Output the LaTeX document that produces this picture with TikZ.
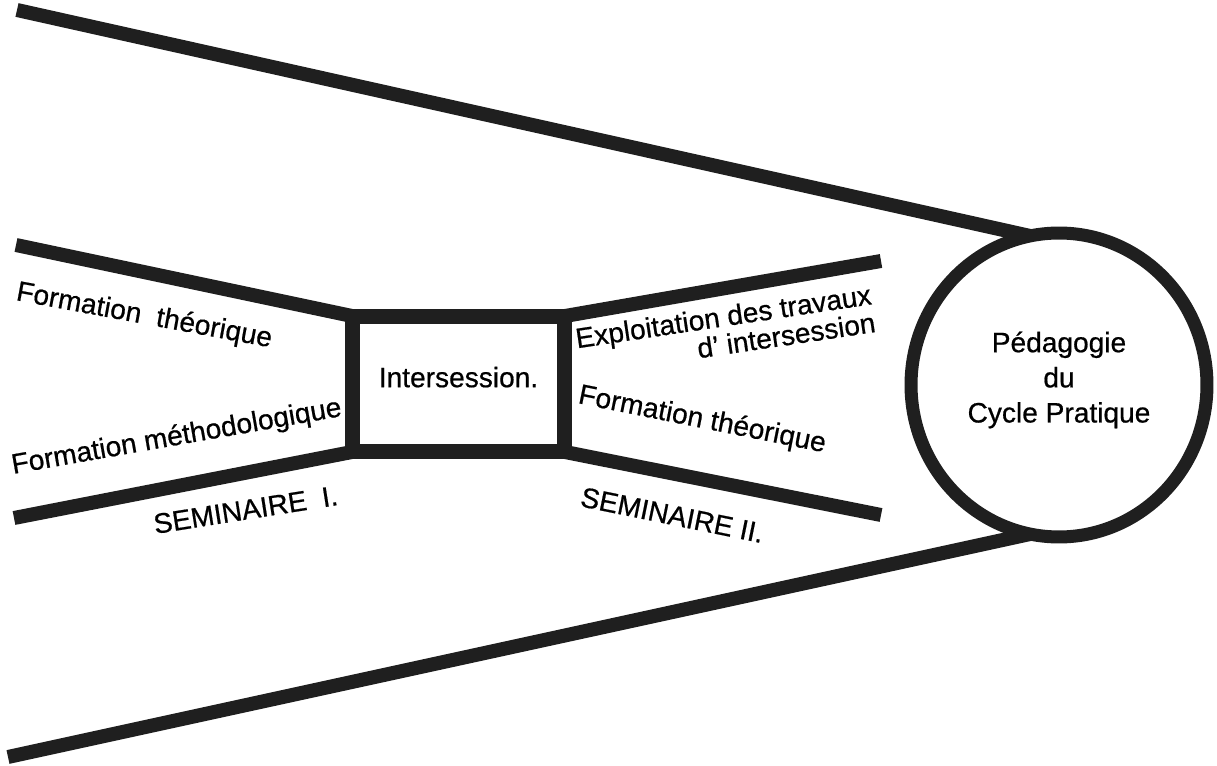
\documentclass[tikz,border=0pt]{standalone}
\usepackage{fontspec}
\setmainfont{Liberation Sans}[FakeBold=0.6]
\usetikzlibrary{shapes.geometric}

\begin{document}
\begin{tikzpicture}
[x=0.02cm, y=-0.02cm,
bar/.style ={draw=black!88, line width=0.28cm, line join=miter},
ring/.style ={ellipse, draw=black!88, line width=0.26cm,
minimum width=5.92cm, minimum height=6.08cm,
inner sep=0pt, outer sep=0pt, align=center, text depth=0.32cm,
font=\fontsize{16}{20}\selectfont},
block/.style ={rectangle, draw=black!88, line width=0.3cm,
minimum width=4.26cm, minimum height=2.72cm,
inner sep=0pt, outer sep=0pt, text depth=0.28cm,
font=\fontsize{16}{19}\selectfont},
label/.style ={anchor=base west, inner sep=0pt,
font=\fontsize{16}{13.5}\selectfont}]
\useasboundingbox (0,0) rectangle (1217,766);
% the two sessions and the cycle
\node [block] (inter) at (458.5,384) {Intersession.};
\node [ring]  (peda)  at (1059,385) {Pédagogie\\du\\Cycle Pratique};
% free ends of the bars
\coordinate (bigtop) at (17,10);
\coordinate (bigbot) at (8,757);
\coordinate (semtl)  at (16,245);
\coordinate (sembl)  at (14,518);
\coordinate (semtr)  at (881,261);
\coordinate (sembr)  at (881,515);
\begin{scope}[every path/.style=bar]
\path (bigtop) -- (peda.101);
\path (bigbot) -- (peda.259);
\path (semtl) -- (inter.north west) -- (inter.north east) -- (semtr);
\path (sembl) -- (inter.south west) -- (inter.south east) -- (sembr);
\end{scope}
% texts along the bars
\node [label, rotate=-10.5] (ftheo1) at (15,300) {Formation\ \ théorique};
\node [label, rotate=10]    (fmeth)  at (13,474) {Formation méthodologique};
\node [label, rotate=9]     (sem1)   at (155,534) {SEMINAIRE\ \ I.};
\node [label, rotate=8.5, align=right] (explo) at (581,376)
  {Exploitation des travaux\\d’ intersession};
\node [label, rotate=-11.3] (ftheo2) at (577,403) {Formation théorique};
\node [label, rotate=-11.5] (sem2)   at (579,506) {SEMINAIRE II.};
\end{tikzpicture}
\end{document}
